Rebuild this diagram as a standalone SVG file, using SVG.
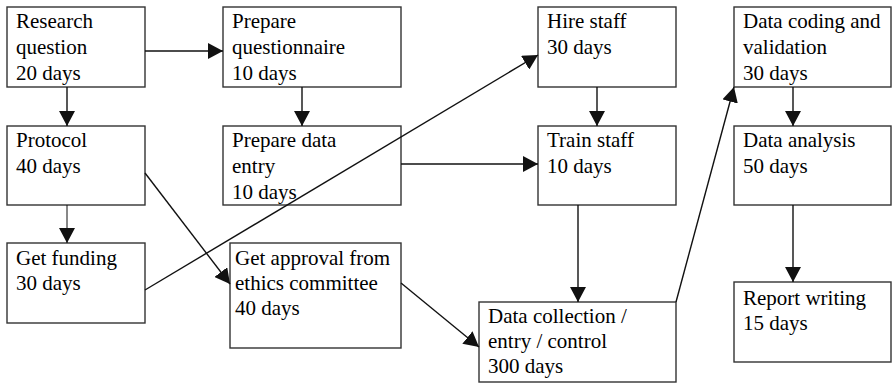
<svg xmlns="http://www.w3.org/2000/svg" width="892" height="383" viewBox="0 0 892 383" font-family="Liberation Serif" font-size="21">
<defs>
<marker id="ah" markerUnits="userSpaceOnUse" markerWidth="16" markerHeight="16" viewBox="0 0 16 16" refX="15" refY="8" orient="auto">
<path d="M0,0 L15,8 L0,16 z" fill="#111"/>
</marker>
</defs>
<rect width="892" height="383" fill="#fff"/>
<g id="research" fill="none" stroke="#333" stroke-width="1.4">
<rect x="7" y="7" width="138" height="80"/>
</g>
<text x="16" y="28" style="font-family:'Liberation Serif',serif;font-size:21px">Research</text>
<text x="16" y="54" style="font-family:'Liberation Serif',serif;font-size:21px">question</text>
<text x="16" y="80" style="font-family:'Liberation Serif',serif;font-size:21px">20 days</text>
<g id="questionnaire" fill="none" stroke="#333" stroke-width="1.4">
<rect x="223" y="7" width="178" height="80"/>
</g>
<text x="232" y="28" style="font-family:'Liberation Serif',serif;font-size:21px">Prepare</text>
<text x="232" y="54" style="font-family:'Liberation Serif',serif;font-size:21px">questionnaire</text>
<text x="232" y="80" style="font-family:'Liberation Serif',serif;font-size:21px">10 days</text>
<g id="protocol" fill="none" stroke="#333" stroke-width="1.4">
<rect x="7" y="126" width="138" height="79"/>
</g>
<text x="16" y="147" style="font-family:'Liberation Serif',serif;font-size:21px">Protocol</text>
<text x="16" y="173" style="font-family:'Liberation Serif',serif;font-size:21px">40 days</text>
<g id="dataentry" fill="none" stroke="#333" stroke-width="1.4">
<rect x="223" y="126" width="178" height="79"/>
</g>
<text x="232" y="147" style="font-family:'Liberation Serif',serif;font-size:21px">Prepare data</text>
<text x="232" y="173" style="font-family:'Liberation Serif',serif;font-size:21px">entry</text>
<text x="232" y="199" style="font-family:'Liberation Serif',serif;font-size:21px">10 days</text>
<g id="funding" fill="none" stroke="#333" stroke-width="1.4">
<rect x="7" y="243" width="138" height="80"/>
</g>
<text x="16" y="265" style="font-family:'Liberation Serif',serif;font-size:21px">Get funding</text>
<text x="16" y="290" style="font-family:'Liberation Serif',serif;font-size:21px">30 days</text>
<g id="approval" fill="none" stroke="#333" stroke-width="1.4">
<rect x="230" y="243" width="171" height="105"/>
</g>
<text x="235" y="265" style="font-family:'Liberation Serif',serif;font-size:21px">Get approval from</text>
<text x="235" y="290" style="font-family:'Liberation Serif',serif;font-size:21px">ethics committee</text>
<text x="235" y="315" style="font-family:'Liberation Serif',serif;font-size:21px">40 days</text>
<g id="hire" fill="none" stroke="#333" stroke-width="1.4">
<rect x="538" y="7" width="138" height="80"/>
</g>
<text x="547" y="28" style="font-family:'Liberation Serif',serif;font-size:21px">Hire staff</text>
<text x="547" y="54" style="font-family:'Liberation Serif',serif;font-size:21px">30 days</text>
<g id="train" fill="none" stroke="#333" stroke-width="1.4">
<rect x="538" y="126" width="138" height="79"/>
</g>
<text x="547" y="147" style="font-family:'Liberation Serif',serif;font-size:21px">Train staff</text>
<text x="547" y="173" style="font-family:'Liberation Serif',serif;font-size:21px">10 days</text>
<g id="collection" fill="none" stroke="#333" stroke-width="1.4">
<rect x="479" y="302" width="197" height="80"/>
</g>
<text x="488" y="323" style="font-family:'Liberation Serif',serif;font-size:21px">Data collection /</text>
<text x="488" y="348" style="font-family:'Liberation Serif',serif;font-size:21px">entry / control</text>
<text x="488" y="373" style="font-family:'Liberation Serif',serif;font-size:21px">300 days</text>
<g id="coding" fill="none" stroke="#333" stroke-width="1.4">
<rect x="734" y="7" width="157" height="80"/>
</g>
<text x="743" y="28" style="font-family:'Liberation Serif',serif;font-size:21px">Data coding and</text>
<text x="743" y="54" style="font-family:'Liberation Serif',serif;font-size:21px">validation</text>
<text x="743" y="80" style="font-family:'Liberation Serif',serif;font-size:21px">30 days</text>
<g id="analysis" fill="none" stroke="#333" stroke-width="1.4">
<rect x="734" y="126" width="157" height="79"/>
</g>
<text x="743" y="147" style="font-family:'Liberation Serif',serif;font-size:21px">Data analysis</text>
<text x="743" y="173" style="font-family:'Liberation Serif',serif;font-size:21px">50 days</text>
<g id="report" fill="none" stroke="#333" stroke-width="1.4">
<rect x="734" y="282" width="157" height="80"/>
</g>
<text x="743" y="305" style="font-family:'Liberation Serif',serif;font-size:21px">Report writing</text>
<text x="743" y="330" style="font-family:'Liberation Serif',serif;font-size:21px">15 days</text>
<g id="connectors" stroke="#111" stroke-width="1.4" fill="none" marker-end="url(#ah)">
<line x1="145" y1="51" x2="223" y2="51"/>
<line x1="67" y1="87" x2="67" y2="126"/>
<line x1="302" y1="87" x2="302" y2="126"/>
<line x1="67" y1="205" x2="67" y2="243" stroke-width="1"/>
<line x1="145" y1="173" x2="230" y2="284"/>
<line x1="145" y1="290" x2="538" y2="55"/>
<line x1="401" y1="164" x2="538" y2="164"/>
<line x1="597" y1="87" x2="597" y2="126"/>
<line x1="578" y1="205" x2="578" y2="302"/>
<line x1="401" y1="283" x2="479" y2="347"/>
<line x1="676" y1="302" x2="734" y2="87"/>
<line x1="793" y1="87" x2="793" y2="126"/>
<line x1="793" y1="205" x2="793" y2="282"/>
</g>
</svg>
